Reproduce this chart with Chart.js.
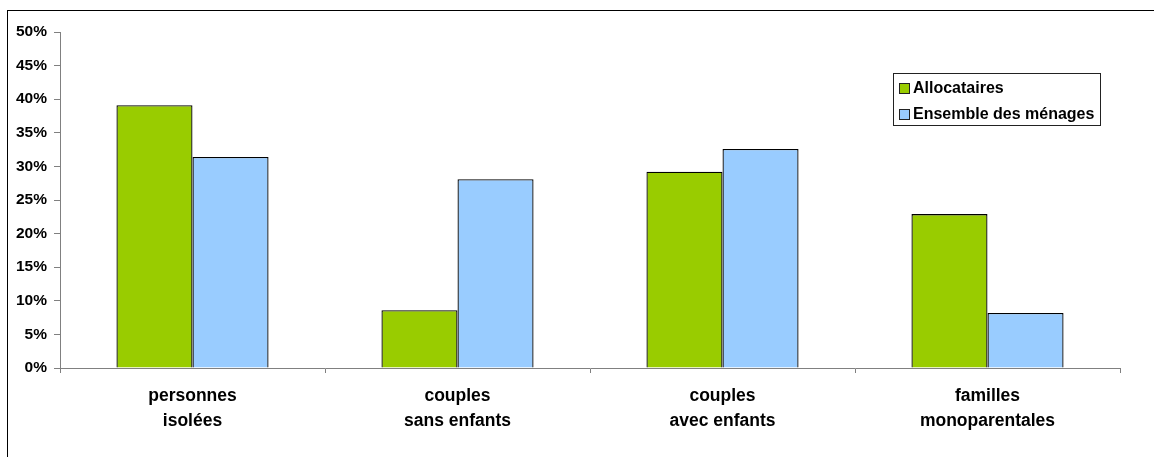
<!DOCTYPE html>
<html>
<head>
<meta charset="utf-8">
<script src="https://cdn.jsdelivr.net/npm/chart.js@4"></script>
<style>
  html, body { margin: 0; padding: 0; background: #fff; }
  #wrap { position: relative; width: 1154px; height: 457px; overflow: hidden; }
  #frame { position: absolute; left: 7px; top: 10px; width: 1300px; height: 600px;
           border-left: 1px solid #000; border-top: 1px solid #000; }
  canvas { position: absolute; left: 0; top: 0; }
</style>
</head>
<body>
<div id="wrap">
  <div id="frame"></div>
  <canvas id="chart" width="1154" height="457"></canvas>
</div>
<script>
// data
const categories = [
  ["personnes", "isolées"],
  ["couples", "sans enfants"],
  ["couples", "avec enfants"],
  ["familles", "monoparentales"]
];
const seriesNames = ["Allocataires", "Ensemble des ménages"];
const allocataires = [39.1, 8.6, 29.2, 22.9];
const menages = [31.4, 28.1, 32.6, 8.2];
const yMax = 50;
const yStep = 5;

const FONT = '"Liberation Sans", Arial, sans-serif';

// legend drawn as a boxed key inside the plot, like the original
const boxLegend = {
  id: 'boxLegend',
  afterDraw(chart) {
    const ctx = chart.ctx;
    const area = chart.chartArea;
    const x = area.right - 227, y = area.top + 41, w = 207, h = 52;
    ctx.save();
    ctx.fillStyle = '#fff';
    ctx.fillRect(x + 0.5, y + 0.5, w, h);
    ctx.strokeStyle = '#222';
    ctx.lineWidth = 1;
    ctx.strokeRect(x + 0.5, y + 0.5, w, h);
    ctx.font = 'bold 16px ' + FONT;
    ctx.textBaseline = 'middle';
    chart.data.datasets.forEach(function (ds, i) {
      const cy = y + 15 + i * 26;
      ctx.fillStyle = ds.backgroundColor;
      ctx.fillRect(x + 6.5, cy - 4.5, 10, 10);
      ctx.strokeStyle = '#222';
      ctx.strokeRect(x + 6.5, cy - 4.5, 10, 10);
      ctx.fillStyle = '#000';
      ctx.fillText(ds.label, x + 20, cy + 1);
    });
    ctx.restore();
  }
};

new Chart(document.getElementById('chart'), {
  type: 'bar',
  data: {
    labels: categories,
    datasets: [{
      label: seriesNames[0],
      data: allocataires,
      backgroundColor: '#99CC00',
      borderColor: '#000',
      borderWidth: 1.3
    }, {
      label: seriesNames[1],
      data: menages,
      backgroundColor: '#99CCFF',
      borderColor: '#000',
      borderWidth: 1.3
    }]
  },
  options: {
    responsive: false,
    animation: false,
    layout: { padding: { left: 0, top: 32, right: 34, bottom: 0 } },
    plugins: {
      legend: { display: false },
      tooltip: { enabled: false }
    },
    datasets: {
      bar: { categoryPercentage: 0.574, barPercentage: 1.0 }
    },
    scales: {
      x: {
        grid: { drawOnChartArea: false, color: '#808080', tickLength: 5, offset: true },
        border: { color: '#808080' },
        ticks: {
          color: '#000',
          padding: 11,
          maxRotation: 0,
          font: { family: FONT, size: 17.5, weight: 'bold', lineHeight: 1.4 }
        },
        afterFit: function (scale) { scale.height = 89; }
      },
      y: {
        min: 0,
        max: yMax,
        grid: { drawOnChartArea: false, color: '#808080', tickLength: 6 },
        border: { color: '#808080' },
        ticks: {
          stepSize: yStep,
          color: '#000',
          padding: 7,
          font: { family: FONT, size: 15.5, weight: 'bold' },
          callback: function (v) { return v + '%'; }
        },
        afterFit: function (scale) { scale.width = 60; }
      }
    }
  },
  plugins: [boxLegend]
});
</script>
</body>
</html>
